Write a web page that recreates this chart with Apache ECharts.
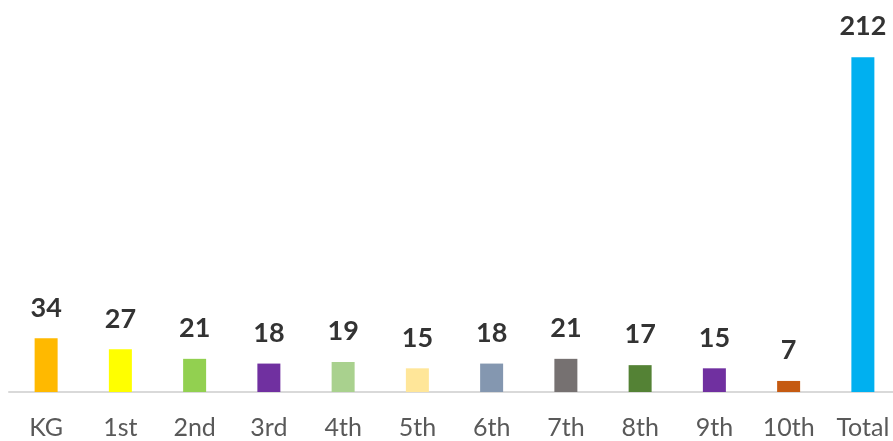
<!DOCTYPE html>
<html><head><meta charset="utf-8">
<script src="https://cdn.jsdelivr.net/npm/echarts@6/dist/echarts.min.js"></script>
<style>html,body{margin:0;padding:0;background:#fff}#c{width:893px;height:441px}</style>
</head><body><div id="c"></div>
<script>
const categories = ['KG','1st','2nd','3rd','4th','5th','6th','7th','8th','9th','10th','Total'];
const values = [34,27,21,18,19,15,18,21,17,15,7,212];
const colors = ['#FFB900','#FFFF00','#92D050','#7030A0','#A9D18E','#FFE699','#8497B0','#767171','#548235','#7030A0','#C55A11','#00B0F0'];
const chart = echarts.init(document.getElementById('c'));
chart.setOption({
  animation:false,
  grid:{left:9,right:-7,top:13,bottom:49,outerBoundsMode:'none',containLabel:false},
  xAxis:{type:'category',data:categories,
    axisLine:{lineStyle:{color:'#D9D9D9',width:2}},
    axisTick:{show:false},
    axisLabel:{color:'#595959',fontSize:25,fontFamily:'Lato',margin:23}},
  yAxis:{type:'value',min:0,max:240,show:false,splitLine:{show:false}},
  series:[{type:'bar',barWidth:23,
    data:values.map((v,i)=>({value:v,itemStyle:{color:colors[i]}})),
    label:{show:true,position:'top',distance:17,color:'#333333',fontSize:27,fontWeight:'bold',fontFamily:'Lato'}}]
});
</script></body></html>
